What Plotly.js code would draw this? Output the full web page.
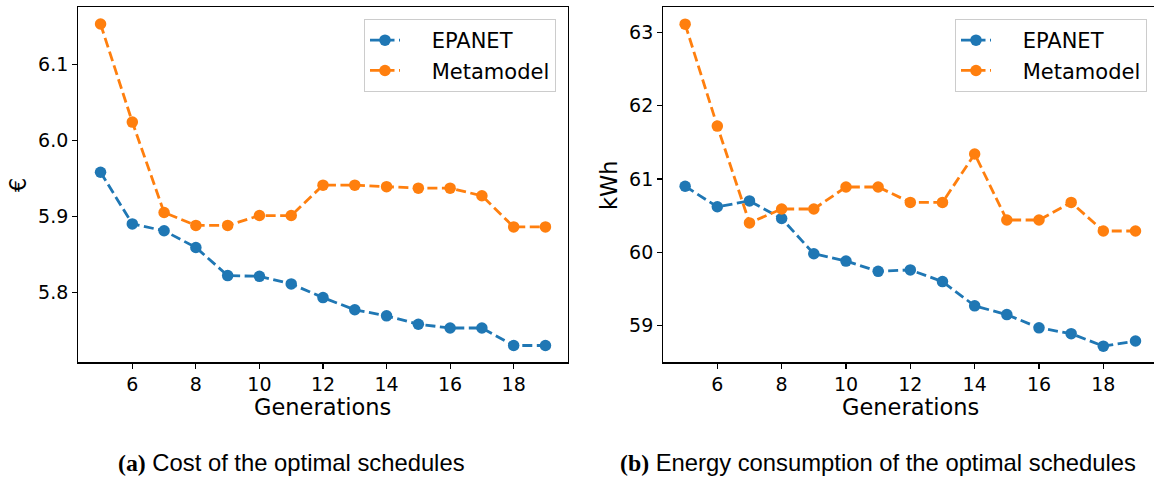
<!DOCTYPE html>
<html>
<head>
<meta charset="utf-8">
<script src="https://cdn.plot.ly/plotly-3.0.1.min.js"></script>
<style>
  html, body { margin: 0; padding: 0; background: #fff; }
  #chart { width: 1154px; height: 477px; }
</style>
</head>
<body>
<div id="chart"></div>
<script>
// Generations evaluated by the optimiser
const generations = [5, 6, 7, 8, 9, 10, 11, 12, 13, 14, 15, 16, 17, 18, 19];

// (a) Cost of the optimal schedules, in euros
const costEpanet    = [5.958, 5.890, 5.881, 5.859, 5.822, 5.821, 5.811, 5.793, 5.777, 5.769, 5.758, 5.753, 5.753, 5.730, 5.730];
const costMetamodel = [6.153, 6.024, 5.905, 5.888, 5.888, 5.901, 5.901, 5.941, 5.941, 5.939, 5.937, 5.937, 5.927, 5.886, 5.886];

// (b) Energy consumption of the optimal schedules, in kWh
const energyEpanet    = [60.90, 60.62, 60.70, 60.46, 59.98, 59.88, 59.74, 59.76, 59.60, 59.27, 59.15, 58.97, 58.89, 58.72, 58.79];
const energyMetamodel = [63.11, 61.72, 60.40, 60.59, 60.59, 60.89, 60.89, 60.68, 60.68, 61.34, 60.44, 60.44, 60.68, 60.29, 60.29];

const xTicks = [6, 8, 10, 12, 14, 16, 18];
const costTicks = [5.8, 5.9, 6.0, 6.1];
const costTickText = ['5.8', '5.9', '6.0', '6.1'];
const energyTicks = [59, 60, 61, 62, 63];

const seriesNames = ['EPANET', 'Metamodel'];
const captionTags = ['(a)', '(b)'];
const captions = ['Cost of the optimal schedules', 'Energy consumption of the optimal schedules'];
const xTitle = 'Generations';
const yTitles = ['€', 'kWh'];

const BLUE = '#1f77b4';
const ORANGE = '#ff7f0e';
const FONT = 'DejaVu Sans, sans-serif';
const CAPTION_FONT = 'Liberation Sans, Arial, sans-serif';
// non-breaking spaces open a gap between the legend swatch and its label
const LEGEND_GAP = '\u00a0\u00a0\u00a0\u00a0';

function series(x, y, name, color, xa, ya, legend) {
  return {
    x: x, y: y, name: LEGEND_GAP + name, type: 'scatter', mode: 'lines+markers',
    xaxis: xa, yaxis: ya, legend: legend, showlegend: true,
    line: { color: color, width: 2.8, dash: '10px,4.5px' },
    marker: { color: color, size: 11.5, symbol: 'circle' }
  };
}

const data = [
  series(generations, costEpanet, seriesNames[0], BLUE, 'x', 'y', 'legend'),
  series(generations, costMetamodel, seriesNames[1], ORANGE, 'x', 'y', 'legend'),
  series(generations, energyEpanet, seriesNames[0], BLUE, 'x2', 'y2', 'legend2'),
  series(generations, energyMetamodel, seriesNames[1], ORANGE, 'x2', 'y2', 'legend2')
];

const W = 1154, H = 477;
const plotTop = 7.3, plotBottom = 362.3;
const yDomain = [(H - plotBottom) / H, (H - plotTop) / H];
const px = v => v / W;
const py = v => (H - v) / H;

const axisCommon = {
  showline: true, mirror: true, linecolor: '#000', linewidth: 1.2,
  ticks: 'outside', ticklen: 5, tickwidth: 1.2, tickcolor: '#000',
  showgrid: false, zeroline: false, automargin: false,
  tickfont: { family: FONT, size: 19, color: '#000' }
};

const legendCommon = {
  bgcolor: 'rgba(255,255,255,0.85)', bordercolor: '#cccccc', borderwidth: 1,
  font: { family: FONT, size: 21, color: '#000' },
  xanchor: 'right', yanchor: 'top', tracegroupgap: 0, itemwidth: 30
};

function label(text, x, y, opts) {
  return Object.assign({
    text: text, xref: 'paper', yref: 'paper', x: px(x), y: py(y),
    xanchor: 'center', yanchor: 'middle', showarrow: false,
    font: { family: FONT, size: 22.5, color: '#000' }
  }, opts || {});
}

function caption(i, x) {
  return label('<span style="font-family:Liberation Serif, serif"><b>' + captionTags[i] + '</b></span> ' + captions[i],
    x, 462, { font: { family: CAPTION_FONT, size: 23.8, color: '#000' } });
}

const layout = {
  width: W, height: H,
  margin: { l: 0, r: 0, t: 0, b: 0 },
  paper_bgcolor: '#fff', plot_bgcolor: '#fff',
  font: { family: FONT, color: '#000' },
  xaxis: Object.assign({}, axisCommon, {
    domain: [px(78.3), px(567.7)], range: [4.3, 19.7],
    tickvals: xTicks, anchor: 'y'
  }),
  yaxis: Object.assign({}, axisCommon, {
    domain: yDomain, range: [5.7079, 6.175],
    tickvals: costTicks, ticktext: costTickText, anchor: 'x'
  }),
  xaxis2: Object.assign({}, axisCommon, {
    domain: [px(663.3), 1], range: [4.321, 19.575],
    tickvals: xTicks, anchor: 'y2'
  }),
  yaxis2: Object.assign({}, axisCommon, {
    domain: yDomain, range: [58.50, 63.34],
    tickvals: energyTicks, anchor: 'x2'
  }),
  legend: Object.assign({}, legendCommon, { x: px(556), y: py(19) }),
  legend2: Object.assign({}, legendCommon, { x: px(1147), y: py(19) }),
  annotations: [
    label(xTitle, 322, 407),
    label(xTitle, 910, 407),
    label(yTitles[0], 18, 185, { textangle: -90 }),
    label(yTitles[1], 609, 185, { textangle: -90 }),
    caption(0, 291),
    caption(1, 878)
  ]
};

Plotly.newPlot('chart', data, layout, { displayModeBar: false, staticPlot: true });
</script>
</body>
</html>
